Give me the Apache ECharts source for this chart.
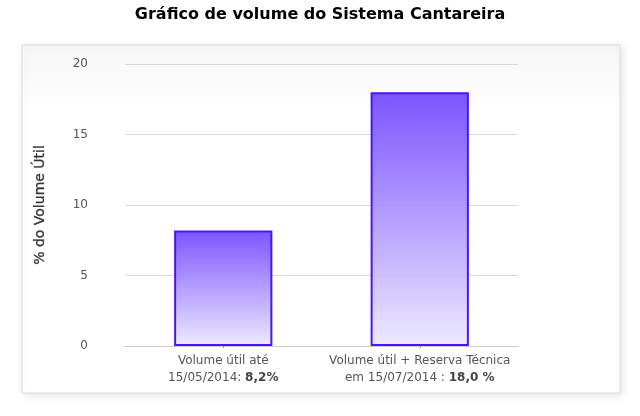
<!DOCTYPE html>
<html><head><meta charset="utf-8">
<script src="https://cdn.jsdelivr.net/npm/echarts@6/dist/echarts.min.js"></script>
<style>html,body{margin:0;padding:0;background:#fff}#c{width:640px;height:416px}</style>
</head><body><div id="c"></div>
<script>
var categories = ['Volume útil até\n15/05/2014: {b|8,2%}', 'Volume útil + Reserva Técnica\nem 15/07/2014 : {b|18,0 %}'];
var values = [8.2, 18.0];
var yTicks = [0, 5, 10, 15, 20];

var chart = echarts.init(document.getElementById('c'), null, {renderer: 'canvas'});
var font = 'DejaVu Sans, Verdana, sans-serif';
chart.setOption({
  animation: false,
  backgroundColor: '#fff',
  graphic: [{
    type: 'rect', z: -10, silent: true,
    shape: {x: 22, y: 45, width: 598, height: 348},
    style: {
      fill: new echarts.graphic.LinearGradient(0, 0, 0, 1, [
        {offset: 0, color: '#f6f6f6'}, {offset: 0.2, color: '#ffffff'}, {offset: 1, color: '#ffffff'}]),
      stroke: '#dddddd', lineWidth: 1,
      shadowBlur: 8, shadowColor: 'rgba(0,0,0,0.10)', shadowOffsetX: 2, shadowOffsetY: 2
    }
  }],
  title: {
    text: 'Gráfico de volume do Sistema Cantareira',
    left: 'center', top: 2,
    textStyle: {fontFamily: font, fontSize: 16, fontWeight: 'bold', color: '#000'}
  },
  grid: {left: 125, right: 122, top: 64, bottom: 70, containLabel: false},
  xAxis: {
    type: 'category', data: categories,
    axisLine: {lineStyle: {color: '#cccccc'}},
    axisTick: {show: true, alignWithLabel: true, length: 2, lineStyle: {color: '#999'}},
    axisLabel: {
      interval: 0, color: '#555', fontFamily: font, fontSize: 12, lineHeight: 17, margin: 6,
      rich: {b: {fontWeight: 'bold', color: '#444', fontFamily: font, fontSize: 12, lineHeight: 17}}
    }
  },
  yAxis: {
    type: 'value', min: yTicks[0], max: yTicks[yTicks.length - 1], interval: 5,
    name: '% do Volume Útil', nameLocation: 'middle', nameGap: 78, nameRotate: 90,
    nameTextStyle: {fontFamily: font, fontSize: 14, fontWeight: 'normal', color: '#333', textBorderColor: '#333', textBorderWidth: 0.3},
    axisLine: {show: false}, axisTick: {show: false},
    axisLabel: {color: '#555', fontFamily: font, fontSize: 12, margin: 37},
    splitLine: {lineStyle: {color: '#d8d8d8'}}
  },
  series: [{
    type: 'bar', data: values, barWidth: '50%',
    itemStyle: {
      color: new echarts.graphic.LinearGradient(0, 0, 0, 1, [
        {offset: 0, color: 'rgba(112,70,255,0.92)'}, {offset: 1, color: 'rgba(236,232,255,0.92)'}]),
      borderColor: '#4a14ff', borderWidth: 2
    }
  }]
});
</script></body></html>
